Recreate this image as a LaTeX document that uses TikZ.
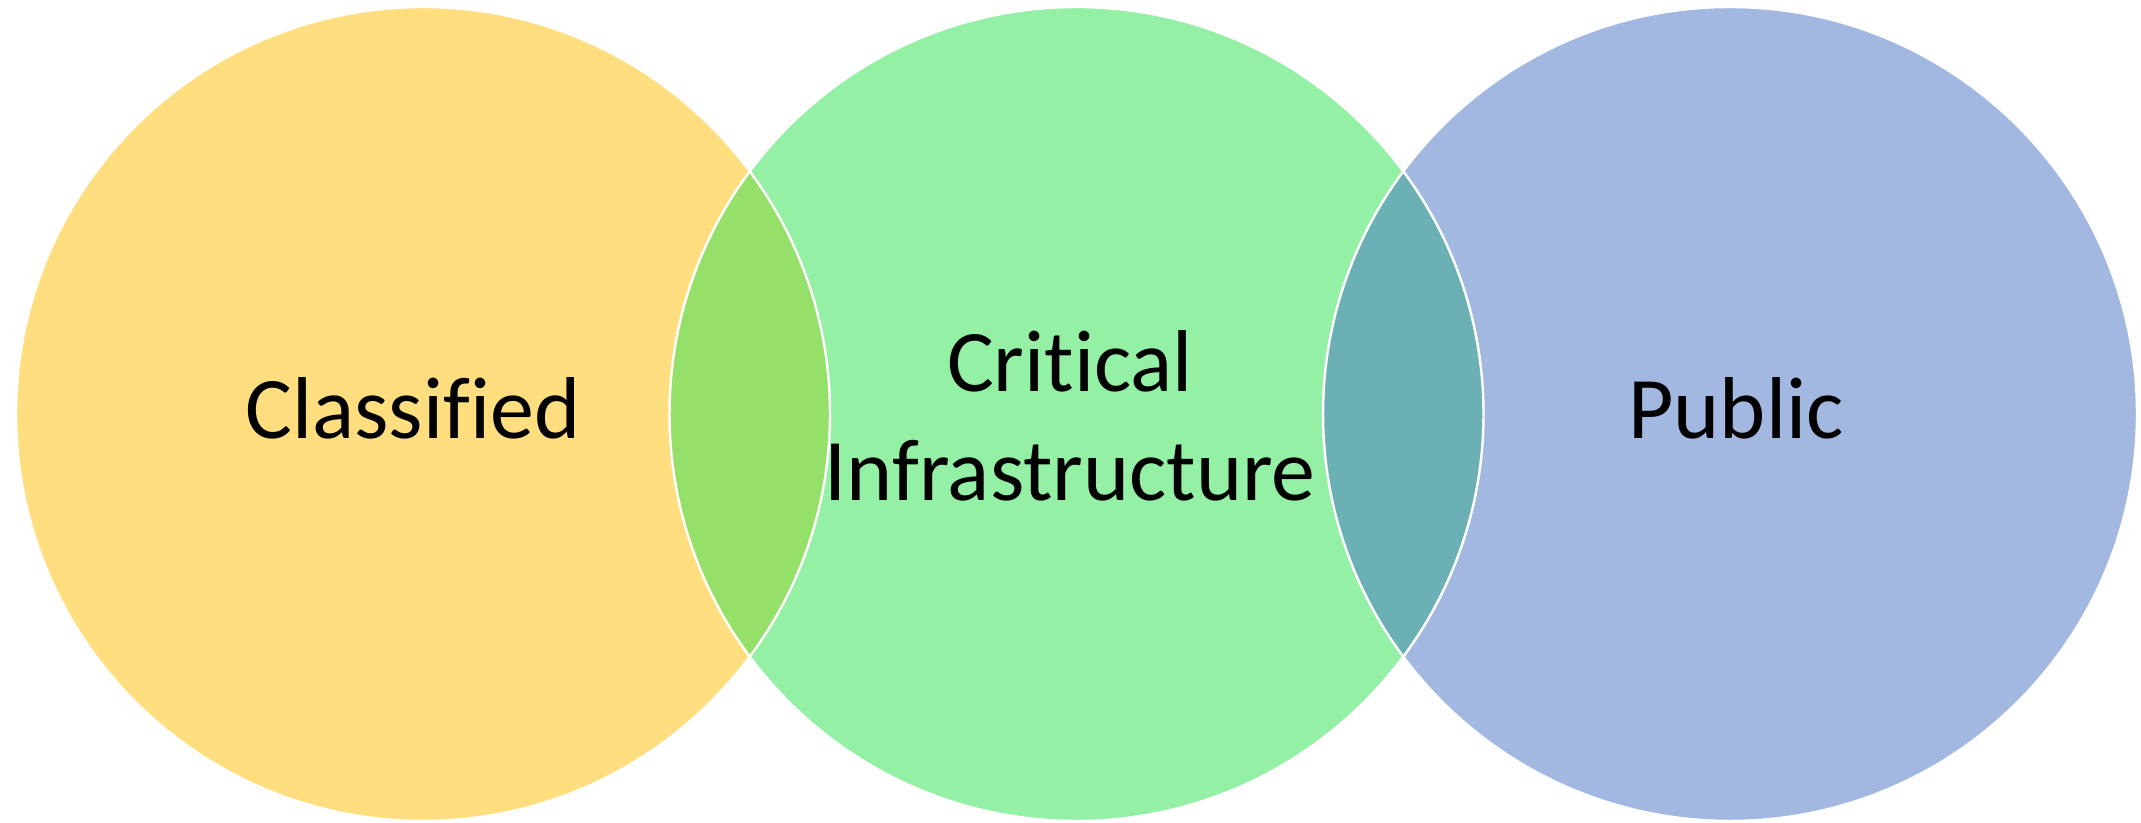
\documentclass[tikz,border=0pt]{standalone}
\usepackage{fontspec}
\setmainfont{Carlito}[Ligatures={NoCommon,NoContextual}]
\definecolor{cyel}{RGB}{255,222,128}
\definecolor{cgrn}{RGB}{148,240,164}
\definecolor{cblu}{RGB}{162,184,224}
\definecolor{clens1}{RGB}{148,224,104}
\definecolor{clens2}{RGB}{106,176,180}
\tikzset{
  venn/.style={draw=white, line width=0.7pt},
  lbl/.style={font=\fontsize{25}{30.5}\selectfont, text=black, inner sep=0pt}
}
\begin{document}
\begin{tikzpicture}
\useasboundingbox (0,0) rectangle (21.41,8.23);
\coordinate (cl) at (4.23,4.09);
\coordinate (cm) at (10.765,4.09);
\coordinate (cr) at (17.30,4.09);
\def\rad{4.07}
\fill[cyel] (cl) circle (\rad);
\fill[cblu] (cr) circle (\rad);
\fill[cgrn] (cm) circle (\rad);
\begin{scope}
  \clip (cl) circle (\rad);
  \fill[clens1] (cm) circle (\rad);
\end{scope}
\begin{scope}
  \clip (cr) circle (\rad);
  \fill[clens2] (cm) circle (\rad);
\end{scope}
\draw[venn] (cl) circle (\rad);
\draw[venn] (cm) circle (\rad);
\draw[venn] (cr) circle (\rad);
\node[lbl, anchor=base] (classified) at (4.13,3.84) {Classified};
\node[lbl, anchor=base] (critical) at (10.70,4.31) {Critical};
\node[lbl, anchor=base] (infra) at (10.70,3.22) {Infrastructure};
\node[lbl, anchor=base] (public) at (17.36,3.84) {Public};
\end{tikzpicture}
\end{document}
